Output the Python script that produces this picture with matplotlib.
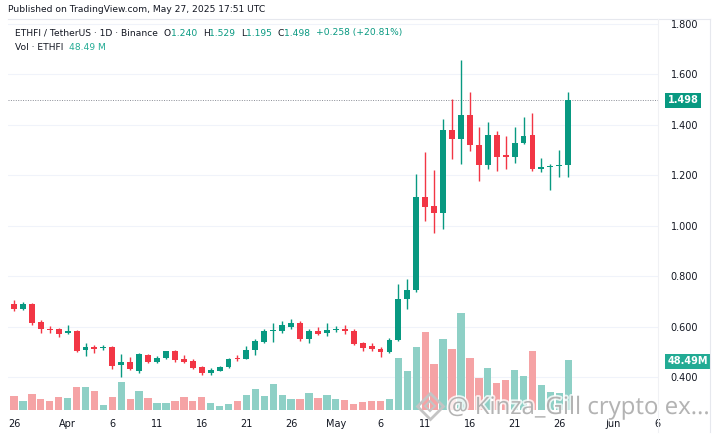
import matplotlib
matplotlib.use("Agg")
import matplotlib.pyplot as plt
import matplotlib.dates as mdates
import matplotlib.patheffects as pe
import pandas as pd
import numpy as np

# ---------------- data ----------------
start_date = "2025-03-26"
opens = [0.691, 0.673, 0.690, 0.620, 0.593, 0.591, 0.575, 0.583, 0.509, 0.519,
         0.516, 0.519, 0.448, 0.461, 0.425, 0.490, 0.461, 0.477, 0.504, 0.472,
         0.466, 0.440, 0.419, 0.427, 0.440, 0.478, 0.474, 0.509, 0.540, 0.583,
         0.585, 0.599, 0.615, 0.554, 0.585, 0.575, 0.588, 0.593, 0.585, 0.535,
         0.525, 0.514, 0.501, 0.549, 0.712, 0.747, 1.116, 1.079, 1.053, 1.380,
         1.343, 1.438, 1.322, 1.240, 1.362, 1.280, 1.272, 1.327, 1.359, 1.224,
         1.235, 1.238, 1.240]
highs = [0.705, 0.700, 0.697, 0.628, 0.604, 0.596, 0.609, 0.588, 0.535, 0.527,
         0.530, 0.525, 0.493, 0.480, 0.498, 0.493, 0.485, 0.506, 0.510, 0.490,
         0.472, 0.446, 0.438, 0.446, 0.477, 0.490, 0.525, 0.551, 0.593, 0.615,
         0.622, 0.630, 0.622, 0.593, 0.599, 0.615, 0.604, 0.609, 0.593, 0.540,
         0.535, 0.520, 0.556, 0.770, 0.791, 1.206, 1.294, 1.222, 1.425, 1.504,
         1.657, 1.531, 1.393, 1.412, 1.375, 1.356, 1.393, 1.430, 1.449, 1.269,
         1.245, 1.301, 1.529]
lows = [0.663, 0.668, 0.607, 0.578, 0.578, 0.562, 0.572, 0.501, 0.485, 0.496,
        0.508, 0.435, 0.401, 0.430, 0.417, 0.456, 0.456, 0.472, 0.461, 0.456,
        0.432, 0.411, 0.411, 0.427, 0.438, 0.464, 0.472, 0.490, 0.538, 0.541,
        0.575, 0.593, 0.546, 0.538, 0.567, 0.564, 0.580, 0.572, 0.530, 0.506,
        0.504, 0.480, 0.499, 0.545, 0.672, 0.740, 1.021, 0.971, 0.989, 1.264,
        1.246, 1.298, 1.179, 1.227, 1.219, 1.224, 1.248, 1.325, 1.219, 1.214,
        1.143, 1.193, 1.195]
closes = [0.672, 0.690, 0.615, 0.591, 0.588, 0.572, 0.585, 0.506, 0.519, 0.514,
          0.519, 0.446, 0.461, 0.432, 0.493, 0.461, 0.477, 0.504, 0.469, 0.461,
          0.438, 0.419, 0.430, 0.440, 0.474, 0.475, 0.509, 0.543, 0.585, 0.588,
          0.607, 0.615, 0.554, 0.583, 0.572, 0.588, 0.593, 0.585, 0.533, 0.517,
          0.512, 0.501, 0.549, 0.712, 0.747, 1.116, 1.077, 1.053, 1.380, 1.343,
          1.438, 1.320, 1.240, 1.359, 1.272, 1.275, 1.327, 1.356, 1.224, 1.235,
          1.238, 1.240, 1.498]
volumes_m = [13.6, 9.0, 15.2, 10.4, 8.4, 12.9, 11.9, 22.6, 22.0, 18.7,
             5.1, 12.9, 26.9, 10.4, 18.7, 11.3, 7.1, 7.1, 8.7, 12.9,
             8.7, 12.3, 7.1, 4.2, 6.1, 9.0, 14.3, 20.4, 13.3, 25.5,
             14.3, 11.0, 10.4, 16.2, 11.9, 14.5, 10.4, 9.4, 6.1, 7.8,
             8.4, 8.4, 11.0, 50.9, 38.3, 61.4, 75.6, 44.6, 68.9, 59.2,
             94.4, 50.1, 30.7, 41.0, 26.5, 29.1, 38.8, 33.0, 57.5, 24.5,
             17.5, 16.2, 48.49]
tick_dates = ["2025-03-26", "2025-04-01", "2025-04-06", "2025-04-11", "2025-04-16",
              "2025-04-21", "2025-04-26", "2025-05-01", "2025-05-06", "2025-05-11",
              "2025-05-16", "2025-05-21", "2025-05-26", "2025-06-01", "2025-06-06"]
tick_labels = ["26", "Apr", "6", "11", "16", "21", "26", "May", "6", "11",
               "16", "21", "26", "Jun", "6"]
price_ticks = [0.4, 0.6, 0.8, 1.0, 1.2, 1.4, 1.6, 1.8]
last_price = 1.498
last_volume_label = "48.49M"

# ---------------- style ----------------
UP = "#089981"
DOWN = "#f23645"
UP_VOL = "#8ed0c6"
DOWN_VOL = "#f5a3a5"
TXT = "#131722"
GRID = "#f0f3fa"
plt.rcParams['font.family'] = ['DejaVu Sans']

W, H = 718, 434
fig = plt.figure(figsize=(W / 100, H / 100), dpi=100)
fig.patch.set_facecolor("white")

L, R, T, B = 8, 658, 19, 413
ax = fig.add_axes([L / W, (H - B) / H, (R - L) / W, (B - T) / H])
axv = ax.twinx()

dates = pd.date_range(start_date, periods=len(opens), freq="D")
x = mdates.date2num(dates)
o = np.array(opens); c = np.array(closes); hi = np.array(highs); lo = np.array(lows)
up = c >= o
cols = np.where(up, UP, DOWN)
vcols = np.where(up, UP_VOL, DOWN_VOL)

YMIN, YMAX = 0.2594, 1.8198
VMIN, VMAX = -2.9, 379.2

# volume
axv.bar(x, volumes_m, width=0.82, color=vcols, linewidth=0, zorder=1)
axv.set_ylim(VMIN, VMAX)
axv.set_yticks([])
for s in axv.spines.values():
    s.set_visible(False)

# candles on top
ax.set_zorder(axv.get_zorder() + 1)
ax.patch.set_visible(False)
ax.vlines(x, lo, hi, colors=cols, linewidth=1.0, zorder=3)
body_h = np.maximum(np.abs(c - o), 0.004)
ax.bar(x, body_h, bottom=np.minimum(o, c), width=0.66, color=cols, linewidth=0, zorder=4)

x0 = mdates.date2num(pd.Timestamp(start_date))
ax.set_xlim(x0 - 0.67, x0 + 72.04)
ax.set_ylim(YMIN, YMAX)

tx = mdates.date2num(pd.to_datetime(tick_dates))
ax.set_xticks(tx)
ax.set_xticklabels(tick_labels)
ax.yaxis.tick_right()
ax.set_yticks(price_ticks)
ax.set_yticklabels([f"{p:.3f}" for p in price_ticks])
ax.tick_params(axis="both", length=0, labelsize=7, colors=TXT)
ax.tick_params(axis="x", pad=4)
ax.tick_params(axis="y", pad=9)
for s in ax.spines.values():
    s.set_visible(False)
ax.grid(False)

# grid lines behind volume bars (drawn on volume axis)
axv.set_xticks(tx)
axv.tick_params(axis="x", length=0, labelbottom=False)
axv.grid(True, axis="x", color=GRID, linewidth=0.8, zorder=0)
axv.set_axisbelow(True)
for yy in price_ticks:
    axv.axhline((yy - YMIN) / (YMAX - YMIN) * (VMAX - VMIN) + VMIN,
                color=GRID, linewidth=0.8, zorder=0)

# last price dotted line and labels
ax.axhline(last_price, color="#8a8d96", linestyle=(0, (1, 1.5)), linewidth=0.7, zorder=2)
ax.annotate(f"{last_price:.3f}", xy=(1, last_price), xycoords=("axes fraction", "data"),
            xytext=(7, 0), textcoords="offset points", ha="left", va="center",
            fontsize=7, color="white", fontweight="bold",
            bbox=dict(boxstyle="square,pad=0.25", fc=UP, ec="none"))
axv.annotate(last_volume_label, xy=(1, volumes_m[-1]), xycoords=("axes fraction", "data"),
             xytext=(7, -1), textcoords="offset points", ha="left", va="center",
             fontsize=7, color="white", fontweight="bold",
             bbox=dict(boxstyle="square,pad=0.25", fc="#22ab94", ec="none"))

# frame lines
def hline(y, x1, x2, col="#e6e8ee"):
    fig.add_artist(plt.Line2D([x1 / W, x2 / W], [1 - y / H, 1 - y / H], color=col, lw=0.8))
def vline(xp, y1, y2, col="#e6e8ee"):
    fig.add_artist(plt.Line2D([xp / W, xp / W], [1 - y1 / H, 1 - y2 / H], color=col, lw=0.8))
hline(19, 8, 710)
vline(658, 19, 432, "#f0f1f4")
vline(710, 19, 432)

# header texts
fig.text(8 / W, 1 - 10 / H, "Published on TradingView.com, May 27, 2025 17:51 UTC",
         fontsize=6.6, color=TXT, va="center", ha="left")

fig.canvas.draw()
renderer = fig.canvas.get_renderer()

def seq(pieces, xpix, ypix, size=6.6):
    cur = xpix
    for txt, col in pieces:
        t = fig.text(cur / W, 1 - ypix / H, txt, fontsize=size, color=col, va="center", ha="left")
        bb = t.get_window_extent(renderer)
        cur = bb.x1

seq([("ETHFI / TetherUS · 1D · Binance  ", TXT), ("O", TXT), ("1.240  ", UP),
     ("H", TXT), ("1.529  ", UP), ("L", TXT), ("1.195  ", UP), ("C", TXT),
     ("1.498  ", UP), ("+0.258 (+20.81%)", UP)], 15, 33)
seq([("Vol · ETHFI  ", TXT), ("48.49 M", "#22ab94")], 15, 48)

# watermark
fig.text(447 / W, 1 - 408 / H, "@ Kinza_Gill crypto ex...", fontsize=17.3,
         family=["Open Sans", "DejaVu Sans"], color="#a4a4a4",
         alpha=0.8, va="center", ha="left",
         path_effects=[pe.withStroke(linewidth=2.5, foreground="white")])
fig.add_artist(plt.Line2D([430 / W], [1 - 406 / H], marker="D", markersize=13,
                          markerfacecolor="none", markeredgecolor="#c4c4c4", mew=2))
fig.add_artist(plt.Line2D([430 / W], [1 - 406 / H], marker="D", markersize=5,
                          markerfacecolor="none", markeredgecolor="#c4c4c4", mew=1.5))

fig.savefig("out.png", dpi=100, facecolor="white")
